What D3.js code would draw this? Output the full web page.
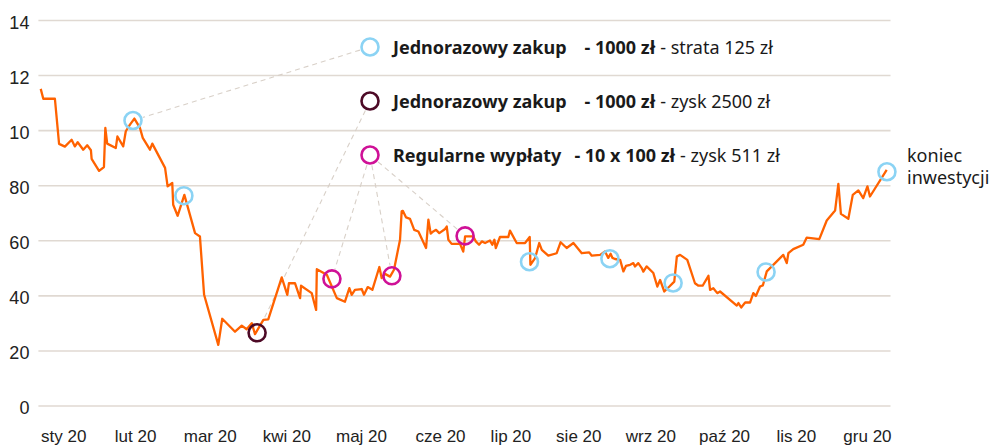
<!DOCTYPE html>
<html>
<head>
<meta charset="utf-8">
<script src="https://cdn.jsdelivr.net/npm/d3@7"></script>
<style>
  body { margin: 0; background: #fff; }
  svg { display: block; font-family: "Noto Sans", "Open Sans", sans-serif; }
  .grid line { stroke: #e0d9d2; stroke-width: 1.6; }
  .axis text { fill: #222; }
  .leader { stroke: #d8d0c8; stroke-width: 1.1; stroke-dasharray: 5 4; fill: none; }
</style>
</head>
<body>
<div id="chart"></div>
<script>
// dzien roku (0 = 1 sty 2020) i wartosc
const dni = [1.0, 2.1, 7.1, 8.9, 11.4, 14.3, 15.7, 16.9, 19.3, 21.0, 22.6, 22.9, 26.1, 28.2, 28.8, 29.6,
  33.3, 34.0, 36.5, 37.6, 39.4, 41.3, 43.7, 44.9, 48.0, 49.0, 54.5, 55.6, 57.6, 58.0, 59.9, 62.8,
  67.4, 69.5, 71.3, 77.4, 79.1, 84.6, 87.5, 89.6, 91.8, 93.2, 96.8, 98.9, 104.7, 107.1, 107.8, 110.4,
  112.6, 113.0, 117.6, 119.5, 119.8, 124.1, 128.4, 131.9, 133.8, 134.8, 136.2, 139.1, 140.1, 141.7,
  143.7, 146.7, 147.7, 149.1, 151.3, 153.0, 155.6, 156.3, 156.8, 158.2, 159.9, 161.7, 163.5, 166.8,
  167.8, 168.8, 169.9, 171.1, 172.5, 175.0, 175.7, 176.4, 177.8, 181.4, 182.8, 183.6, 187.1, 188.2,
  189.6, 190.8, 192.2, 194.3, 195.3, 196.2, 196.8, 198.6, 202.2, 202.9, 205.8, 209.4, 211.4, 211.7,
  213.7, 215.5, 216.6, 219.4, 223.0, 224.7, 227.3, 230.2, 233.8, 237.0, 238.1, 241.7, 243.8, 245.2,
  246.2, 247.0, 248.1, 250.3, 251.7, 252.8, 254.6, 256.0, 256.7, 258.1, 259.6, 260.3, 261.7, 264.6,
  266.3, 267.5, 269.3, 271.5, 273.6, 274.7, 276.1, 279.2, 282.5, 284.0, 285.8, 288.3, 289.0, 290.4,
  292.1, 293.3, 300.5, 301.2, 302.4, 304.1, 306.2, 307.6, 308.7, 310.5, 311.7, 313.4, 320.5, 322.0,
  322.7, 324.8, 329.1, 330.6, 336.0, 339.2, 342.8, 344.2, 345.3, 348.5, 350.4, 352.8, 354.9, 356.7,
  357.8, 365.0];
const wartosci = [115.0, 111.4, 111.4, 95.0, 94.0, 96.5, 94.1, 95.6, 92.9, 94.5, 92.7, 89.6, 85.2, 86.6, 100.8, 95.1,
  93.5, 97.7, 94.1, 99.6, 102.0, 104.2, 100.8, 97.2, 92.9, 95.1, 86.3, 79.6, 80.8, 72.9, 68.9, 76.5,
  62.6, 61.4, 40.2, 22.0, 31.5, 26.8, 29.0, 27.7, 29.9, 25.9, 31.1, 31.3, 46.5, 40.2, 44.4, 44.4,
  39.0, 43.5, 40.8, 34.7, 49.5, 47.5, 39.0, 37.7, 42.6, 40.2, 42.0, 42.3, 40.2, 43.0,
  42.0, 50.3, 46.3, 47.8, 46.8, 49.3, 60.2, 70.5, 70.7, 68.3, 67.8, 63.8, 63.2, 57.2,
  67.5, 62.4, 63.2, 63.8, 62.6, 64.1, 65.0, 60.2, 58.7, 58.7, 55.9, 61.4, 61.4, 59.6,
  58.4, 59.6, 59.0, 59.9, 58.4, 60.2, 57.2, 61.2, 61.2, 63.5, 59.0, 59.0, 61.2, 51.1,
  53.5, 59.0, 56.5, 54.4, 55.3, 59.3, 57.2, 59.0, 55.3, 55.6, 54.4, 54.7, 55.9, 53.6,
  55.1, 53.6, 53.2, 52.9, 48.7, 50.7, 51.1, 51.7, 50.5, 51.7, 49.9, 48.6, 50.5, 48.1,
  43.2, 45.6, 41.4, 43.2, 45.0, 54.1, 54.7, 52.9, 44.4, 43.5, 43.5, 47.1, 42.0, 42.6,
  40.8, 41.4, 36.3, 37.2, 35.6, 37.4, 37.4, 40.8, 39.8, 43.2, 43.6, 48.7, 54.7, 51.7,
  55.3, 56.8, 58.4, 61.0, 60.4, 67.2, 70.8, 80.5, 69.6, 67.8, 76.5, 78.1, 75.3, 79.6,
  75.9, 85.6];

// punkty zakupu [dzien, wartosc]
const punkty_niebieskie = [[40.7, 103.5], [62.6, 76.2], [211.3, 52.2], [245.9, 53.3], [273.1, 44.5], [313.1, 48.5], [365.1, 84.9]];
const punkty_ciemne = [[94.1, 26.4]];
const punkty_rozowe = [[126.3, 46.0], [152.1, 47.1], [183.6, 61.6]];

const y_ticks = [0, 20, 40, 60, 80, 100, 120, 140];
const y_tick_labels = ["0", "20", "40", "60", "80", "10", "12", "14"];
const x_ticks = [10.7, 41.6, 73.7, 106.7, 138.8, 172.8, 203.1, 232.3, 263.3, 295.0, 325.9, 356.5];
const x_tick_labels = ["sty 20", "lut 20", "mar 20", "kwi 20", "maj 20", "cze 20", "lip 20", "sie 20", "wrz 20", "paź 20", "lis 20", "gru 20"];

const legenda_bold = ["Jednorazowy zakup", "Jednorazowy zakup", "Regularne wypłaty"];
const legenda_kwota = ["- 1000 zł", "- 1000 zł", "- 10 x 100 zł"];
const legenda_wynik = ["- strata 125 zł", "- zysk 2500 zł", "- zysk 511 zł"];

const __CONFIG__ = {
  width: 993,
  height: 446,
  x_range: [38.4, 886.7],
  y_range: [405.5, 20],
  grid_right: 890.5,
  line_color: "#ff6200",
  colors: ["#8bd3f4", "#4d0a26", "#cf1197"],
  r: 8.5,
  legend_x: 370,
  legend_y: [47, 101, 155],
  legend_text_x: 393
};

function draw(config = __CONFIG__) {
  const svg = d3.select("#chart").append("svg")
    .attr("width", config.width)
    .attr("height", config.height);

  const x = d3.scaleLinear().domain([0, 365]).range(config.x_range);
  const y = d3.scaleLinear().domain([0, 140]).range(config.y_range);
  const left = config.x_range[0];

  // siatka + etykiety osi Y
  svg.append("g")
    .classed("grid axis", true)
    .attr("transform", `translate(${left},0)`)
    .call(d3.axisLeft(y)
      .tickValues(y_ticks)
      .tickSize(-(config.grid_right - left))
      .tickPadding(9)
      .tickFormat((d, i) => y_tick_labels[i]))
    .call(g => g.select(".domain").remove())
    .call(g => g.selectAll("text")
      .attr("font-size", 18)
      .attr("font-family", null)
      .attr("dy", "0.45em"));

  // os X
  svg.append("g")
    .classed("axis", true)
    .attr("transform", `translate(0,${config.y_range[0]})`)
    .call(d3.axisBottom(x)
      .tickValues(x_ticks)
      .tickSize(0)
      .tickPadding(24)
      .tickFormat((d, i) => x_tick_labels[i]))
    .call(g => g.select(".domain").remove())
    .call(g => g.selectAll("text")
      .attr("font-size", 17)
      .attr("font-family", null));

  // linie prowadzace od legendy
  const groups = [punkty_niebieskie.slice(0, 1), punkty_ciemne, punkty_rozowe];
  const leaders = [];
  groups.forEach((pts, i) => {
    pts.forEach(p => {
      const x0 = config.legend_x, y0 = config.legend_y[i];
      const x1 = x(p[0]), y1 = y(p[1]);
      const len = Math.hypot(x1 - x0, y1 - y0);
      const ux = (x1 - x0) / len, uy = (y1 - y0) / len;
      const gap = config.r + 2;
      leaders.push([x0 + ux * gap, y0 + uy * gap, x1 - ux * gap, y1 - uy * gap]);
    });
  });
  svg.append("g").selectAll("line")
    .data(leaders)
    .join("line")
      .classed("leader", true)
      .attr("x1", d => d[0]).attr("y1", d => d[1])
      .attr("x2", d => d[2]).attr("y2", d => d[3]);

  // seria
  const data = dni.map((d, i) => [d, wartosci[i]]);
  svg.append("path")
    .datum(data)
    .attr("fill", "none")
    .attr("stroke", config.line_color)
    .attr("stroke-width", 2.3)
    .attr("stroke-linejoin", "round")
    .attr("d", d3.line().x(d => x(d[0])).y(d => y(d[1])));

  // kolka
  const all_points = [
    ...punkty_niebieskie.map(p => [p, 0]),
    ...punkty_ciemne.map(p => [p, 1]),
    ...punkty_rozowe.map(p => [p, 2])
  ];
  svg.append("g").selectAll("circle")
    .data(all_points)
    .join("circle")
      .attr("cx", d => x(d[0][0]))
      .attr("cy", d => y(d[0][1]))
      .attr("r", config.r)
      .attr("fill", "none")
      .attr("stroke", d => config.colors[d[1]])
      .attr("stroke-width", 2.6);

  // legenda
  const legend = svg.append("g");
  legend.selectAll("circle")
    .data(config.legend_y)
    .join("circle")
      .attr("cx", config.legend_x)
      .attr("cy", d => d)
      .attr("r", config.r)
      .attr("fill", "#fff")
      .attr("stroke", (d, i) => config.colors[i])
      .attr("stroke-width", 2.6);
  const rows = legend.selectAll("text")
    .data(config.legend_y)
    .join("text")
      .attr("x", config.legend_text_x)
      .attr("y", d => d + 6.5)
      .attr("font-size", 18)
      .attr("fill", "#1a1a1a");
  rows.append("tspan")
    .attr("font-weight", "bold")
    .text((d, i) => legenda_bold[i]);
  rows.append("tspan")
    .attr("font-weight", "bold")
    .attr("dx", (d, i) => i == 2 ? 13 : 18)
    .text((d, i) => legenda_kwota[i]);
  rows.append("tspan")
    .attr("dx", 5)
    .text((d, i) => legenda_wynik[i]);

  // koniec inwestycji
  const end_label = svg.append("text")
    .attr("font-size", 18)
    .attr("fill", "#1a1a1a");
  end_label.append("tspan").attr("x", 907).attr("y", 162).text("koniec");
  end_label.append("tspan").attr("x", 907).attr("y", 184).text("inwestycji");
}

draw();
</script>
</body>
</html>
